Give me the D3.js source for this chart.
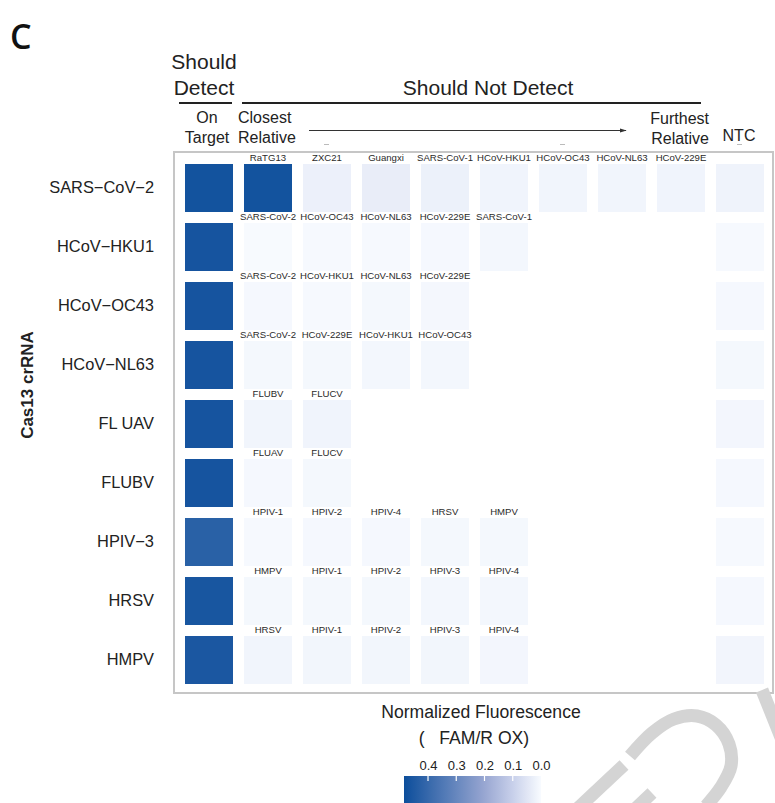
<!DOCTYPE html>
<html>
<head>
<meta charset="utf-8">
<script src="https://cdn.jsdelivr.net/npm/d3@7"></script>
<style>
  html, body { margin: 0; padding: 0; background: #fff; }
  svg { display: block; }
  text { font-family: "Liberation Sans", Arial, sans-serif; fill: #222; }
</style>
</head>
<body>
<svg id="chart" width="775" height="803"></svg>
<script>
// crRNA targets (rows)
const crRNA = ["SARS−CoV−2", "HCoV−HKU1", "HCoV−OC43", "HCoV−NL63", "FL UAV", "FLUBV", "HPIV−3", "HRSV", "HMPV"];

// Normalized fluorescence of the on-target sample
const onTarget = [0.47, 0.465, 0.465, 0.465, 0.465, 0.465, 0.425, 0.46, 0.455];

// Off-target samples, ordered from closest to furthest relative
const relativeNames = [
  ["RaTG13", "ZXC21", "Guangxi", "SARS-CoV-1", "HCoV-HKU1", "HCoV-OC43", "HCoV-NL63", "HCoV-229E"],
  ["SARS-CoV-2", "HCoV-OC43", "HCoV-NL63", "HCoV-229E", "SARS-CoV-1"],
  ["SARS-CoV-2", "HCoV-HKU1", "HCoV-NL63", "HCoV-229E"],
  ["SARS-CoV-2", "HCoV-229E", "HCoV-HKU1", "HCoV-OC43"],
  ["FLUBV", "FLUCV"],
  ["FLUAV", "FLUCV"],
  ["HPIV-1", "HPIV-2", "HPIV-4", "HRSV", "HMPV"],
  ["HMPV", "HPIV-1", "HPIV-2", "HPIV-3", "HPIV-4"],
  ["HRSV", "HPIV-1", "HPIV-2", "HPIV-3", "HPIV-4"]
];
const relativeValues = [
  [0.47, 0.026, 0.032, 0.024, 0.016, 0.014, 0.015, 0.016],
  [0.003, 0.004, 0.005, 0.006, 0.01],
  [0.006, 0.005, 0.008, 0.009],
  [0.008, 0.008, 0.01, 0.01],
  [0.014, 0.016],
  [0.006, 0.008],
  [0.005, 0.006, 0.006, 0.008, 0.008],
  [0.008, 0.008, 0.008, 0.01, 0.01],
  [0.014, 0.012, 0.012, 0.012, 0.011]
];

// No-template control
const ntc = [0.018, 0.005, 0.007, 0.008, 0.011, 0.006, 0.005, 0.007, 0.013];

// Colour bar ticks
const legendTicks = [0.4, 0.3, 0.2, 0.1, 0.0];

const svg = d3.select("#chart");

const color = d3.scaleLinear()
  .domain([0, 0.1, 0.2, 0.485])
  .range(["#f8fbff", "#c8d0ea", "#98a6d1", "#0c4e9b"])
  .clamp(true);

// ---- grid scales ----
const nCols = 10;
const x = d3.scaleBand().domain(d3.range(nCols)).range([179.5, 769.5])
  .paddingInner(11 / 59).paddingOuter(5.5 / 59);
const y = d3.scaleBand().domain(crRNA).range([158.5, 689.5])
  .paddingInner(11 / 59).paddingOuter(5.5 / 59);

// Panel frame
svg.append("rect")
  .attr("x", 174).attr("y", 152).attr("width", 599).attr("height", 541)
  .attr("fill", "#fff").attr("stroke", "#c6c6c6").attr("stroke-width", 2);

// Build one record per cell
const cells = [];
crRNA.forEach((r, i) => {
  cells.push({ row: r, col: 0, value: onTarget[i], label: null });
  relativeValues[i].forEach((v, j) => {
    cells.push({ row: r, col: j + 1, value: v, label: relativeNames[i][j] });
  });
  cells.push({ row: r, col: nCols - 1, value: ntc[i], label: null });
});

const g = svg.append("g");
g.selectAll("rect.cell").data(cells).join("rect")
  .attr("class", "cell")
  .attr("x", d => x(d.col))
  .attr("y", d => y(d.row))
  .attr("width", x.bandwidth())
  .attr("height", y.bandwidth())
  .attr("fill", d => color(d.value));

g.selectAll("text.cell-label").data(cells.filter(d => d.label)).join("text")
  .attr("class", "cell-label")
  .attr("x", d => x(d.col) + x.bandwidth() / 2)
  .attr("y", d => y(d.row) - 3)
  .attr("text-anchor", "middle")
  .style("font-size", "9.6px")
  .style("fill", "#2a2a2a")
  .text(d => d.label);

// Row axis
const yAxis = svg.append("g")
  .attr("transform", "translate(174,0)")
  .call(d3.axisLeft(y).tickSize(0).tickPadding(20));
yAxis.select(".domain").remove();
yAxis.selectAll("text")
  .style("font-size", "16.4px")
  .style("font-family", "'Liberation Sans', Arial, sans-serif")
  .attr("fill", "#222");

svg.append("text")
  .attr("transform", "translate(33,385) rotate(-90)")
  .attr("text-anchor", "middle")
  .style("font-size", "17px").style("font-weight", "bold")
  .text("Cas13 crRNA");

// Panel letter
svg.append("text")
  .attr("x", 10).attr("y", 49)
  .style("font-family", "'Open Sans', 'DejaVu Sans', sans-serif")
  .style("font-size", "34px")
  .style("font-weight", "600")
  .style("fill", "#111")
  .text("C");

// ---- column header ----
const colCenter = c => x(c) + x.bandwidth() / 2;
const hdr = svg.append("g");

hdr.append("text").attr("x", colCenter(0) - 5).attr("y", 69)
  .attr("text-anchor", "middle").style("font-size", "21px").text("Should");
hdr.append("text").attr("x", colCenter(0) - 5).attr("y", 95)
  .attr("text-anchor", "middle").style("font-size", "21px").text("Detect");
hdr.append("line").attr("x1", 179).attr("x2", 232).attr("y1", 103).attr("y2", 103)
  .attr("stroke", "#222").attr("stroke-width", 2);

hdr.append("text").attr("x", 488).attr("y", 95)
  .attr("text-anchor", "middle").style("font-size", "21px").text("Should Not Detect");
hdr.append("line").attr("x1", 242).attr("x2", 701).attr("y1", 103).attr("y2", 103)
  .attr("stroke", "#222").attr("stroke-width", 2);

hdr.append("text").attr("x", colCenter(0) - 2).attr("y", 123)
  .attr("text-anchor", "middle").style("font-size", "16px").text("On");
hdr.append("text").attr("x", colCenter(0) - 2).attr("y", 143)
  .attr("text-anchor", "middle").style("font-size", "16px").text("Target");

hdr.append("text").attr("x", 238).attr("y", 123)
  .style("font-size", "16px").text("Closest");
hdr.append("text").attr("x", 238).attr("y", 143)
  .style("font-size", "16px").text("Relative");

hdr.append("text").attr("x", 709).attr("y", 124)
  .attr("text-anchor", "end").style("font-size", "16px").text("Furthest");
hdr.append("text").attr("x", 709).attr("y", 144)
  .attr("text-anchor", "end").style("font-size", "16px").text("Relative");

hdr.append("text").attr("x", colCenter(9) - 1).attr("y", 141)
  .attr("text-anchor", "middle").style("font-size", "16px").text("NTC");

// Arrow from closest to furthest relative
svg.append("defs").append("marker")
  .attr("id", "arrowhead").attr("viewBox", "0 0 10 10")
  .attr("refX", 9).attr("refY", 5)
  .attr("markerWidth", 7).attr("markerHeight", 7)
  .attr("orient", "auto")
  .append("path").attr("d", "M0,2 L10,5 L0,8 Z").attr("fill", "#333");
hdr.append("line").attr("x1", 309).attr("x2", 626).attr("y1", 130.5).attr("y2", 130.5)
  .attr("stroke", "#333").attr("stroke-width", 1)
  .attr("marker-end", "url(#arrowhead)");

// faint tick marks under the header
hdr.selectAll("line.htick").data([2, 6, 9]).join("line")
  .attr("class", "htick")
  .attr("x1", d => colCenter(d) - 3).attr("x2", d => colCenter(d) + 2)
  .attr("y1", 144.5).attr("y2", 144.5)
  .attr("stroke", "#bbb").attr("stroke-width", 1);

// ---- colour legend ----
const lx = d3.scaleLinear().domain([0.485, 0]).range([404, 541]);
const grad = svg.select("defs").append("linearGradient")
  .attr("id", "legendGrad").attr("x1", "0%").attr("x2", "100%");
d3.range(0, 1.0001, 0.05).forEach(t => {
  grad.append("stop")
    .attr("offset", (t * 100) + "%")
    .attr("stop-color", color(0.485 * (1 - t)));
});

svg.append("text").attr("x", 481).attr("y", 718)
  .attr("text-anchor", "middle").style("font-size", "17.6px")
  .text("Normalized Fluorescence");
svg.append("text").attr("x", 474).attr("y", 744)
  .attr("text-anchor", "middle").style("font-size", "17.6px")
  .attr("xml:space", "preserve")
  .text("(   FAM/R OX)");

svg.append("rect")
  .attr("x", 404).attr("y", 776).attr("width", 137).attr("height", 30)
  .attr("fill", "url(#legendGrad)");

const lAxis = svg.append("g").attr("transform", "translate(0,776)")
  .call(d3.axisTop(lx).tickValues(legendTicks).tickFormat(d3.format(".1f")).tickSize(0).tickPadding(6));
lAxis.select(".domain").remove();
lAxis.selectAll("text").style("font-size", "13px")
  .style("font-family", "'Liberation Sans', Arial, sans-serif").attr("fill", "#222");

svg.selectAll("line.ltick").data(legendTicks.slice(0, 4)).join("line")
  .attr("class", "ltick")
  .attr("x1", d => lx(d)).attr("x2", d => lx(d))
  .attr("y1", 776).attr("y2", 781)
  .attr("stroke", "#fff").attr("stroke-width", 1.2);

// ---- faint watermark strokes at the bottom right ----
const wm = svg.append("g").attr("fill", "none")
  .attr("stroke", "#d4d4d4").attr("stroke-width", 13);
const wmLine = d3.line().curve(d3.curveCatmullRom);
wm.append("path").attr("d", wmLine([[630, 756], [652, 733], [674, 719], [697, 716], [716, 725], [729, 744], [731, 766], [721, 787], [706, 806]]));
wm.append("path").attr("d", wmLine([[576, 810], [624, 765]]));
wm.append("path").attr("d", wmLine([[634, 810], [652, 793]]));
wm.append("path").attr("d", wmLine([[762, 690], [782, 740]]));
</script>
</body>
</html>
